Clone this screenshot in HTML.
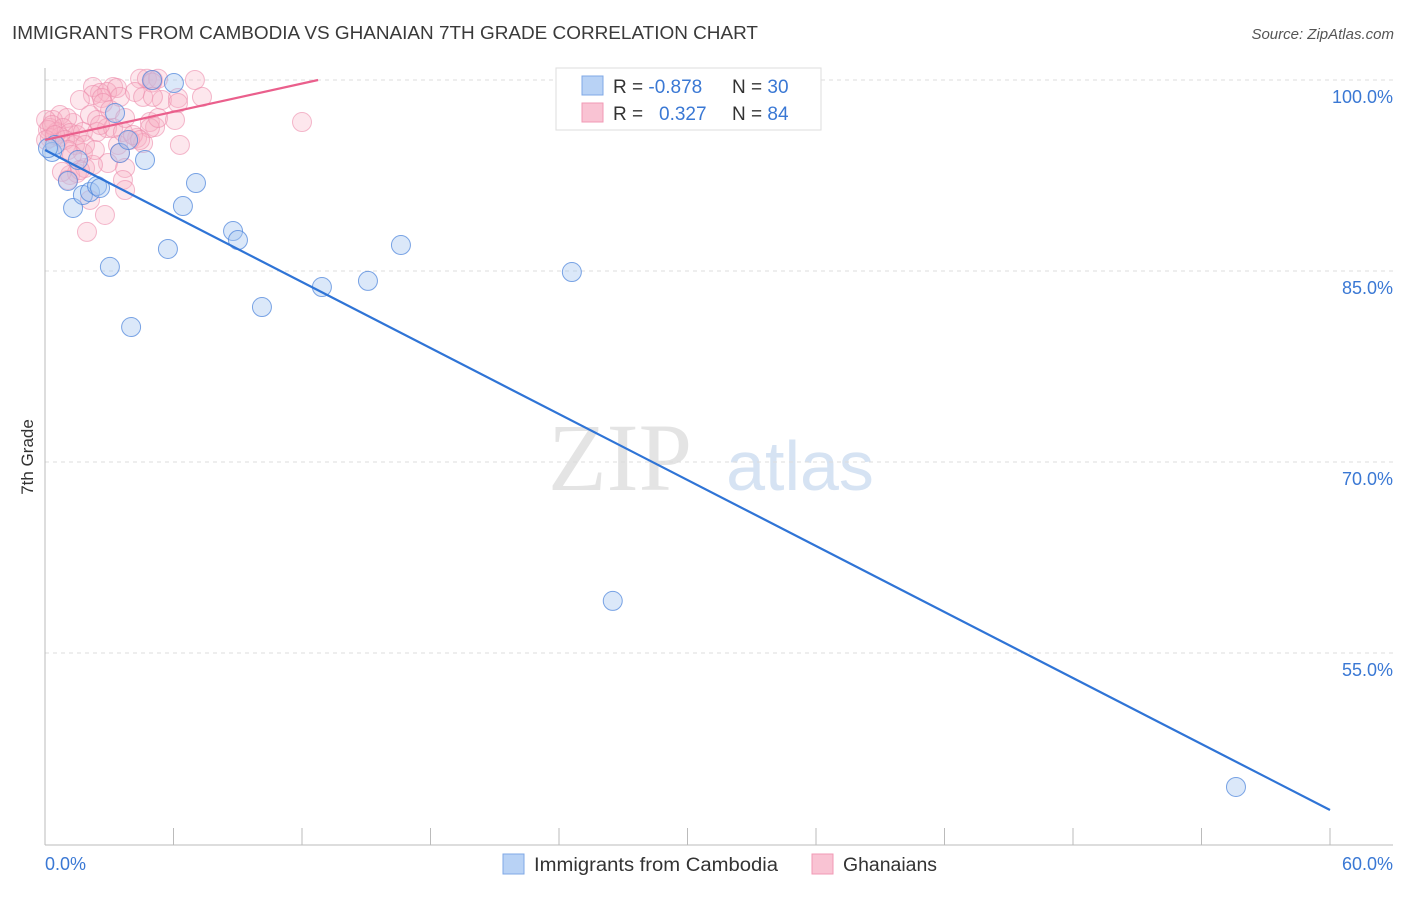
<!DOCTYPE html>
<html><head><meta charset="utf-8"><style>
body{margin:0;background:#fff;font-family:"Liberation Sans",sans-serif;}
</style></head><body>
<svg width="1406" height="892" xmlns="http://www.w3.org/2000/svg">
<text x="12" y="39" font-size="18" fill="#3a3a3a" textLength="746" lengthAdjust="spacingAndGlyphs">IMMIGRANTS FROM CAMBODIA VS GHANAIAN 7TH GRADE CORRELATION CHART</text>
<text x="1394" y="39" font-size="15" fill="#555" font-style="italic" text-anchor="end">Source: ZipAtlas.com</text>
<text x="620" y="490" font-size="96" fill="#e4e4e4" font-family="Liberation Serif,serif" text-anchor="middle">ZIP</text>
<text x="800" y="490" font-size="70" fill="#d6e3f3" text-anchor="middle">atlas</text>
<g id="grid"></g>
<g id="axes"></g>
<g id="pts"></g>
<g id="lines"></g>
<text x="33" y="457" font-size="17" fill="#333" text-anchor="middle" transform="rotate(-90 33 457)">7th Grade</text>
<g>
<rect x="556" y="68" width="265" height="62" fill="#fff" stroke="#ddd"/>
<rect x="582" y="76" width="21" height="19" fill="#b8d2f5" stroke="#7fa8e6"/>
<rect x="582" y="103" width="21" height="19" fill="#f9c3d3" stroke="#f19ab5"/>
<text x="613" y="93" font-size="19" fill="#333">R = <tspan fill="#3a78d4">-0.878</tspan><tspan x="732">N = </tspan><tspan fill="#3a78d4">30</tspan></text>
<text x="613" y="120" font-size="19" fill="#333">R = <tspan x="659" fill="#3a78d4">0.327</tspan><tspan x="732">N = </tspan><tspan fill="#3a78d4">84</tspan></text>
</g>
<g>
<rect x="503" y="854" width="21" height="20" fill="#b8d2f5" stroke="#7fa8e6"/>
<text x="534" y="871" font-size="19" fill="#333" textLength="244" lengthAdjust="spacingAndGlyphs">Immigrants from Cambodia</text>
<rect x="812" y="854" width="21" height="20" fill="#f9c3d3" stroke="#f19ab5"/>
<text x="843" y="871" font-size="19" fill="#333" textLength="94" lengthAdjust="spacingAndGlyphs">Ghanaians</text>
</g>
</svg>
<script>
const yTicks=[100,85,70,55];
const yTickLabels=["100.0%","85.0%","70.0%","55.0%"];
const xTicks=[0,6,12,18,24,30,36,42,48,54,60];
const blueX=[0.33,0.47,1.07,1.31,1.54,1.77,2.10,2.43,2.57,3.03,3.27,3.50,3.88,4.02,4.67,5.0,5.74,6.02,6.44,7.05,8.78,9.01,10.13,12.93,15.08,16.62,24.6,26.51,55.61,0.14];
const blueY=[94.35,94.9,92.07,89.95,93.72,90.97,91.2,91.68,91.52,85.32,97.41,94.27,95.29,80.6,93.72,100,86.73,99.76,90.1,91.91,88.14,87.43,82.17,83.74,84.22,87.04,84.92,59.09,44.48,94.66];
const pinkX=[4.44,4.76,5.04,5.28,5.0,7.0,2.24,3.18,2.57,2.9,3.36,2.24,2.66,3.5,1.63,2.71,4.2,4.58,5.46,6.21,6.21,7.33,5.04,2.1,2.43,2.9,1.31,0.7,0.37,1.03,0.23,0.56,0.84,1.17,1.49,1.77,0.23,0.7,4.9,5.14,4.9,5.28,6.07,6.3,4.3,4.58,3.41,3.5,2.94,3.74,3.64,3.74,2.8,1.96,1.17,1.49,1.87,2.1,1.77,2.24,2.43,3.18,3.64,0.05,0.14,0.33,0.05,0.47,0.93,1.4,1.07,1.87,1.26,1.63,0.79,2.33,2.57,3.97,4.11,4.44,3.04,3.74,12.0,1.07];
const pinkY=[100.1,100.1,100,100.1,99.8,100,99.45,99.45,98.98,99.06,99.37,98.82,98.59,98.67,98.43,98.19,99.06,98.67,98.43,98.59,98.19,98.67,98.67,97.25,96.86,96.23,96.62,97.25,96.86,97.02,96.23,95.92,96.23,95.84,95.68,95.92,95.45,95.53,96.7,96.31,96.23,97.02,96.86,94.9,95.45,95.05,94.9,94.27,93.48,93.09,92.15,91.36,89.4,88.07,92.54,92.7,93.09,90.58,94.27,93.33,95.92,96.23,95.92,96.86,96.07,96.47,95.29,95.68,95.29,94.9,94.5,94.9,94.11,92.93,92.78,94.5,96.47,95.29,95.68,95.29,97.64,97.02,96.7,92.15];
const blueLine=[[0,94.5],[60,42.67]];
const pinkLine=[[0,95.29],[12.75,100]];
const NS="http://www.w3.org/2000/svg";
const sx=v=>45+v/60*1285;
const sy=v=>80+(100-v)/15*191;
function mk(t,a,p){const e=document.createElementNS(NS,t);for(const k in a)e.setAttribute(k,a[k]);p.appendChild(e);return e;}
const grid=document.getElementById('grid'),axes=document.getElementById('axes'),pts=document.getElementById('pts'),lines=document.getElementById('lines');
yTicks.forEach((t,i)=>{
 const l=mk('line',{x1:45,x2:1393,y1:sy(t),y2:sy(t),stroke:'#ddd','stroke-dasharray':'4,4'},grid);
 
 
 const tx=mk('text',{x:1393,y:sy(t)+23,'font-size':18,fill:'#3a78d4','text-anchor':'end'},axes);
 tx.textContent=yTickLabels[i];
 
 
});
const ya=mk('line',{x1:45,x2:45,y1:68,y2:845,stroke:'#bbb'},axes);


const xa=mk('line',{x1:45,x2:1393,y1:845,y2:845,stroke:'#bbb'},axes);


xTicks.forEach(t=>{
 const l=mk('line',{x1:sx(t),x2:sx(t),y1:828,y2:845,stroke:'#bbb'},axes);
 
 
});
const x0=mk('text',{x:45,y:870,'font-size':18,fill:'#3a78d4'},axes);x0.textContent='0.0%';


const x1=mk('text',{x:1393,y:870,'font-size':18,fill:'#3a78d4','text-anchor':'end'},axes);x1.textContent='60.0%';


pinkX.forEach((x,i)=>{
 const c=mk('circle',{cx:sx(x),cy:sy(pinkY[i]),r:9.5,fill:'rgba(247,175,197,0.3)',stroke:'rgba(236,140,172,0.6)','stroke-width':1},pts);
 
 
});
blueX.forEach((x,i)=>{
 const c=mk('circle',{cx:sx(x),cy:sy(blueY[i]),r:9.5,fill:'rgba(165,198,240,0.4)',stroke:'rgba(80,135,220,0.75)','stroke-width':1},pts);
 
 
});
const bl=mk('line',{x1:sx(blueLine[0][0]),y1:sy(blueLine[0][1]),x2:sx(blueLine[1][0]),y2:sy(blueLine[1][1]),stroke:'#2f74d6','stroke-width':2.2},lines);


const pl=mk('line',{x1:sx(pinkLine[0][0]),y1:sy(pinkLine[0][1]),x2:sx(pinkLine[1][0]),y2:sy(pinkLine[1][1]),stroke:'#ea5f8c','stroke-width':2.2},lines);


</script>
</body></html>
